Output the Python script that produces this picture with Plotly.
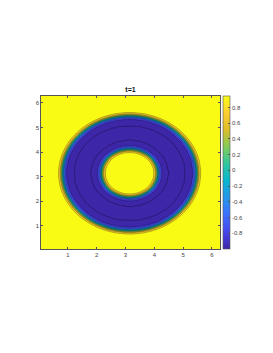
import numpy as np
import plotly.graph_objects as go

# Radial profile of the field u(r) around the centre (pi, pi)
profile_r = [0.00, 0.72, 0.77, 0.82, 0.86, 0.90, 0.94, 0.98, 1.02, 1.06, 1.10, 1.14,
             1.20, 1.27, 1.34, 1.62, 1.92, 2.02, 2.11, 2.17, 2.21, 2.25, 2.29, 2.33,
             2.37, 2.41, 2.45, 2.49, 2.55, 2.61, 5.00]
profile_u = [0.945, 0.945, 0.93, 0.86, 0.76, 0.60, 0.35, 0.00, -0.35, -0.60, -0.76, -0.86,
             -0.94, -0.985, -1.002, -1.004, -1.002, -0.985, -0.94, -0.86, -0.76, -0.60, -0.35, 0.00,
             0.35, 0.60, 0.76, 0.86, 0.93, 0.945, 0.945]

n_grid = 100
center = [np.pi, np.pi]
levels = dict(start=-0.8, end=0.8, size=0.2)
extra_line_level = -1.0
cbar_vals = [0.8, 0.6, 0.4, 0.2, 0, -0.2, -0.4, -0.6, -0.8]
cbar_text = ["0.8", "0.6", "0.4", "0.2", "0", "-0.2", "-0.4", "-0.6", "-0.8"]
axis_ticks = [1, 2, 3, 4, 5, 6]
u_min, u_max = -1.0, 0.945

parula = [
    [0 / 9, "rgb(62,38,168)"],
    [1 / 9, "rgb(71,71,235)"],
    [2 / 9, "rgb(62,111,255)"],
    [3 / 9, "rgb(39,150,235)"],
    [4 / 9, "rgb(8,181,208)"],
    [5 / 9, "rgb(49,198,159)"],
    [6 / 9, "rgb(129,204,89)"],
    [7 / 9, "rgb(220,189,41)"],
    [8 / 9, "rgb(252,207,48)"],
    [9 / 9, "rgb(249,251,21)"],
]

h = 2 * np.pi / n_grid
x = np.linspace(h, 2 * np.pi, n_grid)
y = np.linspace(h, 2 * np.pi, n_grid)
X, Y = np.meshgrid(x, y)
R = np.sqrt((X - center[0]) ** 2 + (Y - center[1]) ** 2)
U = np.interp(R, profile_r, profile_u)

line_col = "rgba(0,0,0,0.6)"
fig = go.Figure()
fig.add_trace(go.Contour(
    x=x, y=y, z=U,
    autocontour=False,
    contours=dict(start=levels["start"], end=levels["end"], size=levels["size"], coloring="fill"),
    colorscale=parula,
    line=dict(color=line_col, width=0.5, smoothing=0),
    showscale=False, showlegend=False,
    hoverinfo="skip",
))
fig.add_trace(go.Contour(
    x=x, y=y, z=U,
    autocontour=False,
    contours=dict(start=extra_line_level, end=extra_line_level, size=1, coloring="none"),
    line=dict(color=line_col, width=0.5, smoothing=0),
    showscale=False, showlegend=False,
    hoverinfo="skip",
))
fig.add_trace(go.Scatter(
    x=[None], y=[None], mode="markers",
    marker=dict(color=[0], colorscale=parula, cmin=u_min, cmax=u_max, showscale=True,
                colorbar=dict(
                    x=1.0168, xanchor="left", xpad=0, y=0.5, yanchor="middle", ypad=0,
                    len=1, lenmode="fraction", thickness=7, thicknessmode="pixels",
                    outlinewidth=0.6, outlinecolor="#555",
                    tickmode="array", tickvals=cbar_vals, ticktext=cbar_text,
                    ticks="inside", ticklen=2, tickcolor="#555", tickwidth=0.6,
                    tickfont=dict(size=6, color="#444", family="Liberation Sans, Arial"),
                )),
    showlegend=False, hoverinfo="skip",
))

axis_common = dict(
    tickmode="array", tickvals=axis_ticks, ticktext=[str(t) for t in axis_ticks],
    ticks="inside", ticklen=2.5, tickwidth=0.6, tickcolor="#555",
    showline=True, linecolor="#555", linewidth=0.6, mirror="ticks",
    showgrid=False, zeroline=False,
    tickfont=dict(size=6, color="#444", family="Liberation Sans, Arial"),
)
fig.update_xaxes(range=[h, 2 * np.pi], **axis_common)
fig.update_yaxes(range=[h, 2 * np.pi], **axis_common)

# page body has an 8px margin, so the figure is 8px smaller and margins shifted
W, H = 265, 345
fig.update_layout(
    width=W, height=H, showlegend=False,
    margin=dict(l=33, r=53, t=88, b=104, pad=0),
    paper_bgcolor="white", plot_bgcolor="white",
    title=dict(text="<b>t=1</b>", x=(33 + 212) / 2 / W, xanchor="center",
               y=1 - 82 / H, yanchor="middle",
               font=dict(size=7, color="#111", family="Liberation Sans, Arial")),
)

fig.write_html("out.html")
